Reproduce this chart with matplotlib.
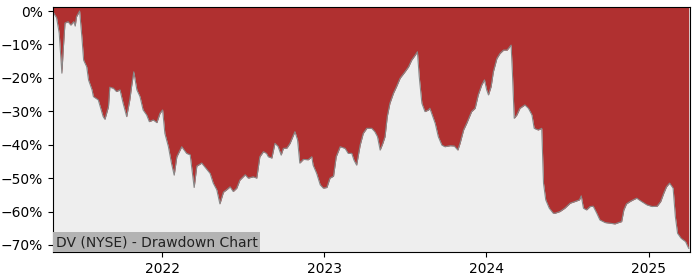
import matplotlib
matplotlib.use("Agg")
import matplotlib.pyplot as plt
import matplotlib.ticker as mticker
import matplotlib.dates as mdates
import pandas as pd

# drawdown of DV (NYSE)
dates = [
    "2021-04-30", "2021-05-02", "2021-05-08", "2021-05-14", "2021-05-20", "2021-05-23",
    "2021-05-27", "2021-06-03", "2021-06-09", "2021-06-16", "2021-06-19", "2021-06-22",
    "2021-06-29", "2021-07-04", "2021-07-08", "2021-07-15", "2021-07-19", "2021-07-27",
    "2021-07-30", "2021-08-10", "2021-08-21", "2021-08-25", "2021-09-02", "2021-09-05",
    "2021-09-13", "2021-09-20", "2021-09-28", "2021-10-05", "2021-10-13", "2021-10-20",
    "2021-10-24", "2021-10-29", "2021-11-05", "2021-11-12", "2021-11-19", "2021-11-27",
    "2021-12-03", "2021-12-12", "2021-12-20", "2021-12-27",
    "2022-01-02", "2022-01-07", "2022-01-15", "2022-01-22", "2022-01-28", "2022-02-03",
    "2022-02-14", "2022-02-25", "2022-03-05", "2022-03-14", "2022-03-20", "2022-03-31",
    "2022-04-11", "2022-04-19", "2022-04-26", "2022-05-04", "2022-05-11", "2022-05-19",
    "2022-05-26", "2022-06-03", "2022-06-10", "2022-06-18", "2022-06-25", "2022-07-07",
    "2022-07-14", "2022-07-25", "2022-08-02", "2022-08-09", "2022-08-17", "2022-08-24",
    "2022-08-28", "2022-09-05", "2022-09-12", "2022-09-19", "2022-09-26", "2022-10-01",
    "2022-10-09", "2022-10-16", "2022-10-27", "2022-11-02", "2022-11-07", "2022-11-15",
    "2022-11-26", "2022-12-04", "2022-12-07", "2022-12-15", "2022-12-23", "2022-12-30",
    "2023-01-07", "2023-01-14", "2023-01-22", "2023-01-28", "2023-02-06", "2023-02-17",
    "2023-02-24", "2023-03-04", "2023-03-09", "2023-03-15", "2023-03-23", "2023-03-30",
    "2023-04-07", "2023-04-18", "2023-04-25", "2023-05-01", "2023-05-07", "2023-05-13",
    "2023-05-18", "2023-05-23", "2023-05-29", "2023-06-06", "2023-06-13", "2023-06-21",
    "2023-07-02", "2023-07-10", "2023-07-17", "2023-07-25", "2023-07-30", "2023-08-03",
    "2023-08-09", "2023-08-16", "2023-08-24", "2023-08-27", "2023-09-08", "2023-09-15",
    "2023-09-23", "2023-09-30", "2023-10-12", "2023-10-21", "2023-10-29", "2023-11-03",
    "2023-11-11", "2023-11-18", "2023-11-29", "2023-12-07", "2023-12-14", "2023-12-22",
    "2023-12-28",
    "2024-01-02", "2024-01-06", "2024-01-12", "2024-01-17", "2024-01-25", "2024-02-01",
    "2024-02-09", "2024-02-17", "2024-02-26", "2024-02-29", "2024-03-04", "2024-03-10",
    "2024-03-17", "2024-03-28", "2024-04-05", "2024-04-13", "2024-04-18", "2024-04-27",
    "2024-05-05", "2024-05-09", "2024-05-14", "2024-05-22", "2024-05-31", "2024-06-04",
    "2024-06-15", "2024-06-26", "2024-07-08", "2024-07-19", "2024-07-29", "2024-08-02",
    "2024-08-07", "2024-08-14", "2024-08-22", "2024-08-29", "2024-09-06", "2024-09-13",
    "2024-09-25", "2024-10-06", "2024-10-17", "2024-10-25", "2024-11-01", "2024-11-06",
    "2024-11-12", "2024-11-20", "2024-11-27", "2024-12-05", "2024-12-16", "2024-12-28",
    "2025-01-09", "2025-01-20", "2025-01-28", "2025-02-04", "2025-02-10", "2025-02-17",
    "2025-02-25", "2025-03-02", "2025-03-07", "2025-03-15", "2025-03-25", "2025-04-01",
]
drawdown = [
    0.0, -0.7, -2.0, -6.6, -18.6, -11.7,
    -3.6, -3.2, -4.2, -3.2, -4.5, -1.7,
    0.0, -7.7, -14.7, -16.7, -20.6, -23.6,
    -25.6, -26.6, -31.6, -32.4, -28.6, -22.8,
    -23.1, -24.1, -23.6, -27.6, -31.6, -26.6,
    -22.6, -18.2, -23.6, -25.6, -29.6, -31.1,
    -33.1, -32.6, -33.4, -30.6,
    -29.6, -36.6, -40.6, -45.6, -49.1, -43.6,
    -40.6, -42.6, -43.0, -52.8, -46.4, -45.5,
    -47.3, -48.6, -51.5, -53.5, -57.7, -54.2,
    -53.5, -52.6, -54.0, -53.0, -50.6, -49.0,
    -50.0, -49.6, -50.0, -43.6, -42.1, -42.6,
    -43.6, -44.0, -39.6, -40.5, -43.1, -41.1,
    -41.0, -39.6, -36.1, -38.6, -45.5, -44.4,
    -44.5, -43.6, -46.1, -48.6, -52.0, -53.0,
    -52.8, -50.0, -49.4, -43.6, -40.6, -41.1,
    -42.6, -42.6, -44.6, -46.1, -40.1, -36.6,
    -35.1, -35.1, -36.1, -37.6, -41.6, -39.6,
    -37.6, -31.6, -27.6, -24.6, -22.6, -20.1,
    -18.2, -16.7, -14.7, -13.2, -12.2, -19.6,
    -27.6, -30.1, -29.6, -29.1, -33.6, -37.6,
    -40.1, -40.6, -40.3, -40.4, -41.6, -39.6,
    -35.6, -33.6, -30.1, -29.1, -25.1, -22.1,
    -20.6,
    -23.6, -25.1, -22.6, -18.2, -14.2, -12.7,
    -11.7, -11.7, -10.2, -18.6, -32.1, -31.1,
    -29.1, -28.1, -29.1, -31.1, -35.1, -35.6,
    -35.1, -51.5, -56.5, -59.0, -60.5, -60.5,
    -60.0, -59.0, -57.5, -57.0, -56.5, -55.3,
    -59.0, -59.5, -58.5, -58.4, -60.5, -62.5,
    -63.3, -63.5, -63.7, -63.3, -63.0, -59.5,
    -57.7, -57.0, -56.5, -56.0, -57.0, -58.0,
    -58.5, -58.4, -57.0, -54.5, -52.6, -51.5,
    -53.0, -61.5, -66.5, -68.0, -69.0, -71.0,
]
title = "DV (NYSE) - Drawdown Chart"

x = pd.to_datetime(dates)

fig = plt.figure(figsize=(7, 2.8), dpi=100)
ax = fig.add_axes([0.0757, 0.1, 0.91, 0.875])
ax.set_facecolor("#eeeeee")
ax.set_ylim(-72.1, 1.2)

# red area runs from the curve up to the top of the axes
top = ax.get_ylim()[1]
ax.fill_between(x, drawdown, top, color="#b03030", linewidth=0)
ax.plot(x, drawdown, color="#888888", linewidth=0.8)

ax.set_xlim(x[0], pd.Timestamp("2025-04-04"))
ax.set_yticks(range(-70, 1, 10))
ax.yaxis.set_major_formatter(mticker.PercentFormatter(decimals=0))
ax.xaxis.set_major_locator(mdates.YearLocator())
ax.xaxis.set_major_formatter(mdates.DateFormatter("%Y"))

ax.text(0.004, 0.012, title, transform=ax.transAxes, ha="left", va="bottom",
        fontsize=10, color="#222222",
        bbox=dict(boxstyle="square,pad=0.2", facecolor="#b3b3b3", edgecolor="none"))

fig.savefig("out.png", dpi=100)
